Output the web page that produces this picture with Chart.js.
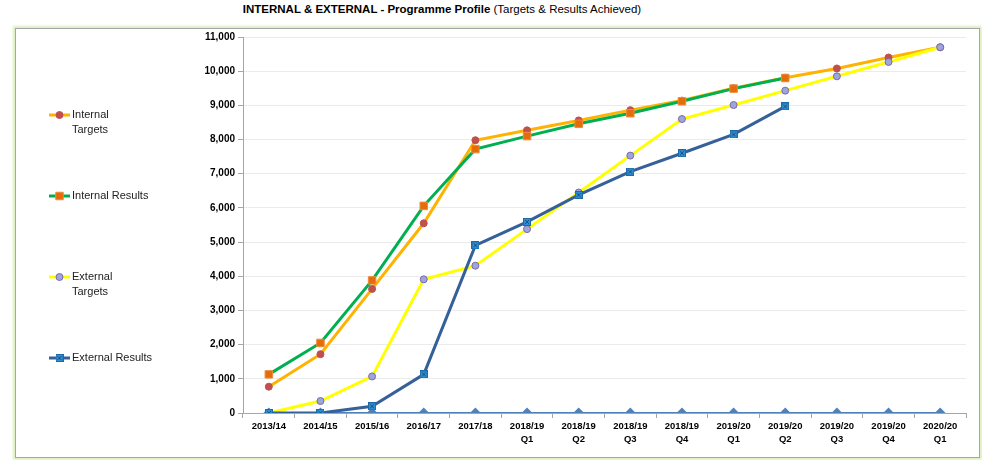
<!DOCTYPE html>
<html>
<head>
<meta charset="utf-8">
<script src="https://cdn.jsdelivr.net/npm/chart.js@4"></script>
<style>
  body { margin: 0; background: #fff; }
  #wrap { position: relative; width: 982px; height: 460px; overflow: hidden; }
  #frame { position: absolute; left: 15px; top: 28px; width: 963px; height: 428px;
           border: 1px solid #a6a6a6; box-shadow: 0 0 2px 2px #dcefc0; }
  #title { position: absolute; top: 3px; left: 0; width: 884px; text-align: center;
           font: 11.5px "Liberation Sans", sans-serif; color: #000; }
  #chart { position: absolute; left: 0; top: 0; }
</style>
</head>
<body>
<div id="wrap">
  <div id="frame"></div>
  <div id="title"><b>INTERNAL &amp; EXTERNAL - Programme Profile</b> (Targets &amp; Results Achieved)</div>
  <canvas id="chart" width="982" height="460"></canvas>
</div>
<script>
// categories (multi-line ones as arrays)
const periods = ["2013/14", "2014/15", "2015/16", "2016/17", "2017/18",
  ["2018/19", "Q1"], ["2018/19", "Q2"], ["2018/19", "Q3"], ["2018/19", "Q4"],
  ["2019/20", "Q1"], ["2019/20", "Q2"], ["2019/20", "Q3"], ["2019/20", "Q4"],
  ["2020/20", "Q1"]];

const internalTargets = [770, 1720, 3630, 5550, 7980, 8270, 8560, 8860, 9140, 9500, 9810, 10080, 10400, 10700];
const internalResults = [1130, 2050, 3880, 6060, 7720, 8100, 8460, 8770, 9120, 9490, 9800, null, null, null];
const externalTargets = [0, 350, 1070, 3910, 4310, 5380, 6450, 7530, 8600, 9010, 9430, 9850, 10270, 10700];
const externalResults = [0, 0, 195, 1130, 4905, 5590, 6380, 7060, 7600, 8150, 8970, null, null, null];
const baseline = [0, 0, 0, 0, 0, 0, 0, 0, 0, 0, 0, 0, 0, 0];

const legendLines = [["Internal", "Targets"], ["Internal Results"], ["External", "Targets"], ["External Results"]];

// little blue square with an x, like the Excel marker
function crossSquare() {
  const c = document.createElement("canvas");
  c.width = 8; c.height = 8;
  const g = c.getContext("2d");
  g.fillStyle = "#2f8fd3";
  g.fillRect(0, 0, 8, 8);
  g.strokeStyle = "#1c6aa8";
  g.lineWidth = 1;
  g.strokeRect(0.5, 0.5, 7, 7);
  g.strokeStyle = "#1d4f7f";
  g.beginPath();
  g.moveTo(2, 2); g.lineTo(6, 6);
  g.moveTo(6, 2); g.lineTo(2, 6);
  g.stroke();
  return c;
}

const sideLegend = {
  id: "sideLegend",
  afterDraw(chart) {
    const ctx = chart.ctx;
    ctx.save();
    legendLines.forEach((lines, i) => {
      const ds = chart.data.datasets[i];
      const y = 115 + i * 81;
      ctx.strokeStyle = ds.borderColor;
      ctx.lineWidth = 3;
      ctx.beginPath();
      ctx.moveTo(49, y);
      ctx.lineTo(70, y);
      ctx.stroke();
      ctx.fillStyle = ds.pointBackgroundColor;
      ctx.strokeStyle = ds.pointBorderColor;
      ctx.lineWidth = 1;
      Chart.helpers.drawPoint(ctx, { pointStyle: ds.pointStyle, radius: ds.pointRadius, borderWidth: 1, rotation: 0 }, 59.5, y);
      ctx.fillStyle = "#222";
      ctx.font = "11px 'Liberation Sans', sans-serif";
      ctx.textBaseline = "middle";
      lines.forEach((t, k) => ctx.fillText(t, 72, y + k * 15));
    });
    ctx.restore();
  }
};

new Chart(document.getElementById("chart"), {
  type: "line",
  data: {
    labels: periods,
    datasets: [
      {
        label: "Internal Targets",
        data: internalTargets,
        borderColor: "#ffb300",
        borderWidth: 3,
        pointStyle: "circle",
        pointRadius: 3.5,
        pointBackgroundColor: "#c0504d",
        pointBorderColor: "#c0504d",
        pointBorderWidth: 1,
        order: 4,
      },
      {
        label: "Internal Results",
        data: internalResults,
        borderColor: "#00b050",
        borderWidth: 3,
        pointStyle: "rect",
        pointRadius: 5.3,
        pointBackgroundColor: "#e46c0a",
        pointBorderColor: "#f08a3a",
        pointBorderWidth: 1,
        order: 3,
      },
      {
        label: "External Targets",
        data: externalTargets,
        borderColor: "#ffff00",
        borderWidth: 3,
        pointStyle: "circle",
        pointRadius: 3.5,
        pointBackgroundColor: "#9aa6dc",
        pointBorderColor: "#7d68ac",
        pointBorderWidth: 1,
        order: 2,
      },
      {
        label: "External Results",
        data: externalResults,
        borderColor: "#36609a",
        borderWidth: 3,
        pointStyle: crossSquare(),
        pointRadius: 4,
        pointBackgroundColor: "#2f8fd3",
        pointBorderColor: "#1c6aa8",
        pointBorderWidth: 1,
        order: 1,
      },
      {
        label: "",
        data: baseline,
        borderColor: "#4f81bd",
        borderWidth: 2,
        pointStyle: "rectRot",
        pointRadius: 4,
        pointBackgroundColor: "#4f81bd",
        pointBorderColor: "#4f81bd",
        order: 5,
      },
    ],
  },
  options: {
    responsive: false,
    animation: false,
    layout: { padding: { left: 193, top: 37, right: 16, bottom: 7 } },
    plugins: {
      legend: { display: false },
      title: { display: false },
      tooltip: { enabled: false },
    },
    elements: { line: { tension: 0 } },
    scales: {
      x: {
        offset: true,
        afterFit(s) { s.height = 40; },
        grid: { offset: true, drawOnChartArea: false, drawTicks: true, tickLength: 5, color: "#a6a6a6" },
        border: { color: "#a6a6a6" },
        ticks: {
          autoSkip: false,
          maxRotation: 0,
          padding: 2,
          color: "#000",
          font: { family: "'Liberation Sans', sans-serif", size: 9.5, weight: "bold", lineHeight: 1.35 },
        },
      },
      y: {
        min: 0,
        max: 11000,
        afterFit(s) { s.width = 50; },
        grid: { color: "#ebebeb", tickColor: "#a6a6a6", tickLength: 5 },
        border: { color: "#a6a6a6" },
        ticks: {
          stepSize: 1000,
          padding: 3,
          color: "#000",
          font: { family: "'Liberation Sans', sans-serif", size: 10, weight: "bold" },
          callback: (v) => v.toLocaleString("en-US"),
        },
      },
    },
  },
  plugins: [sideLegend],
});
</script>
</body>
</html>
